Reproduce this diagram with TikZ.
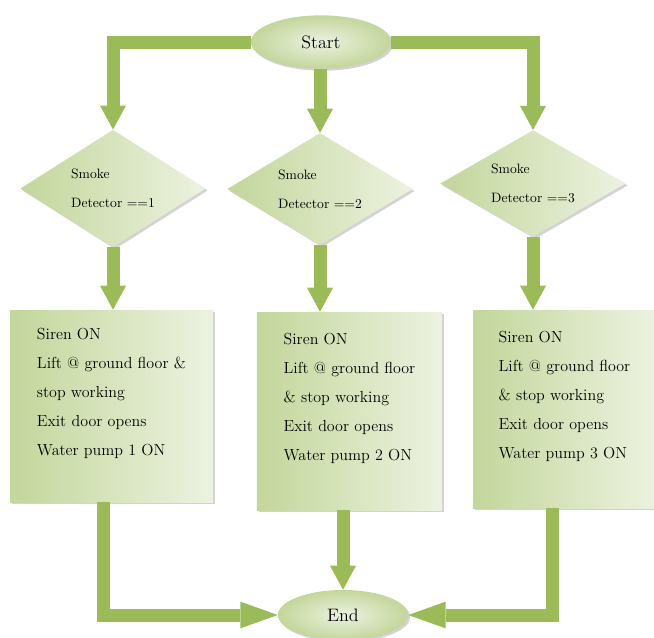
\documentclass[tikz,border=0pt]{standalone}
\usepackage{xcolor}
\usepackage{tikz}
\usetikzlibrary{shapes}
\usetikzlibrary{shadows}
\usetikzlibrary{arrows.meta}

\definecolor{leafdark}{RGB}{195,214,155}
\definecolor{leaflight}{RGB}{236,242,224}
\definecolor{stemgreen}{RGB}{155,187,89}

\begin{document}
\begin{tikzpicture}[x=0.75pt,y=0.75pt,yscale=-1,xscale=1,
  shade drop/.style={drop shadow={shadow xshift=1.5pt, shadow yshift=-1.5pt, opacity=.35}},
  terminal/.style={ellipse, inner color=leaflight, outer color=leafdark, minimum width=105pt, minimum height=40pt, font=\fontsize{13.5}{15}\selectfont, shade drop},
  decision/.style={diamond, aspect=1.58, inner sep=1pt, left color=leafdark, right color=leaflight, minimum width=139pt, align=left, font=\fontsize{10.2}{22}\selectfont, shade drop},
  action/.style={rectangle, left color=leafdark, right color=leaflight, align=left, font=\fontsize{12}{21.75}\selectfont, shade drop},
  flow/.style={draw=stemgreen, line width=9.75pt, -{Triangle[length=18pt,width=19.5pt,line width=0pt]}},
  longflow/.style={flow, -{Triangle[length=28pt,width=20pt,line width=0pt]}}
]
\useasboundingbox (0,0) rectangle (654,637);

%Shape: Ellipse [start]
\node[terminal] (start) at (321,42) {Start};

%Shape: Diamonds
\node[decision, minimum height=88pt] (d1) at (113,188.5) {Smoke\\Detector ==1};
\node[decision, minimum height=84pt] (d2) at (320,189) {Smoke\\Detector ==2};
\node[decision, minimum height=80pt] (d3) at (533,183.5) {Smoke\\Detector ==3};

%Shape: Rectangles
\node[action, minimum width=152pt, minimum height=144pt] (b1) at (111.5,406) {Siren ON\\Lift @ ground floor \&\\stop working\\Exit door opens\\Water pump 1 ON\\ \mbox{}};
\node[action, minimum width=139pt, minimum height=148.5pt] (b2) at (349.5,411) {Siren ON\\Lift @ ground floor\\\& stop working\\Exit door opens\\Water pump 2 ON\\ \mbox{}};
\node[action, minimum width=137pt, minimum height=148.5pt] (b3) at (564.5,409) {Siren ON\\Lift @ ground floor\\\& stop working\\Exit door opens\\Water pump 3 ON\\ \mbox{}};

%Shape: Ellipse [end]
\node[terminal, minimum width=97.5pt, minimum height=37.5pt] (end) at (343,615) {End};

%Straight Lines
\draw[flow] (start.west) -| (d1.north);
\draw[flow] (start.south -| d2.north) -- (d2.north);
\draw[flow] (start.east) -| (d3.north);

\draw[flow] (d1.south) -- (d1.south |- b1.north);
\draw[flow] (d2.south) -- (d2.south |- b2.north);
\draw[flow] (d3.south) -- (d3.south |- b3.north);

\coordinate (lrail) at (103,615);
\coordinate (rrail) at (552,615);
\draw[longflow] (b1.south -| lrail) |- (end.west);
\draw[flow] (end.north |- b2.south) -- (end.north);
\draw[longflow] (b3.south -| rrail) |- (end.east);

\end{tikzpicture}
\end{document}
